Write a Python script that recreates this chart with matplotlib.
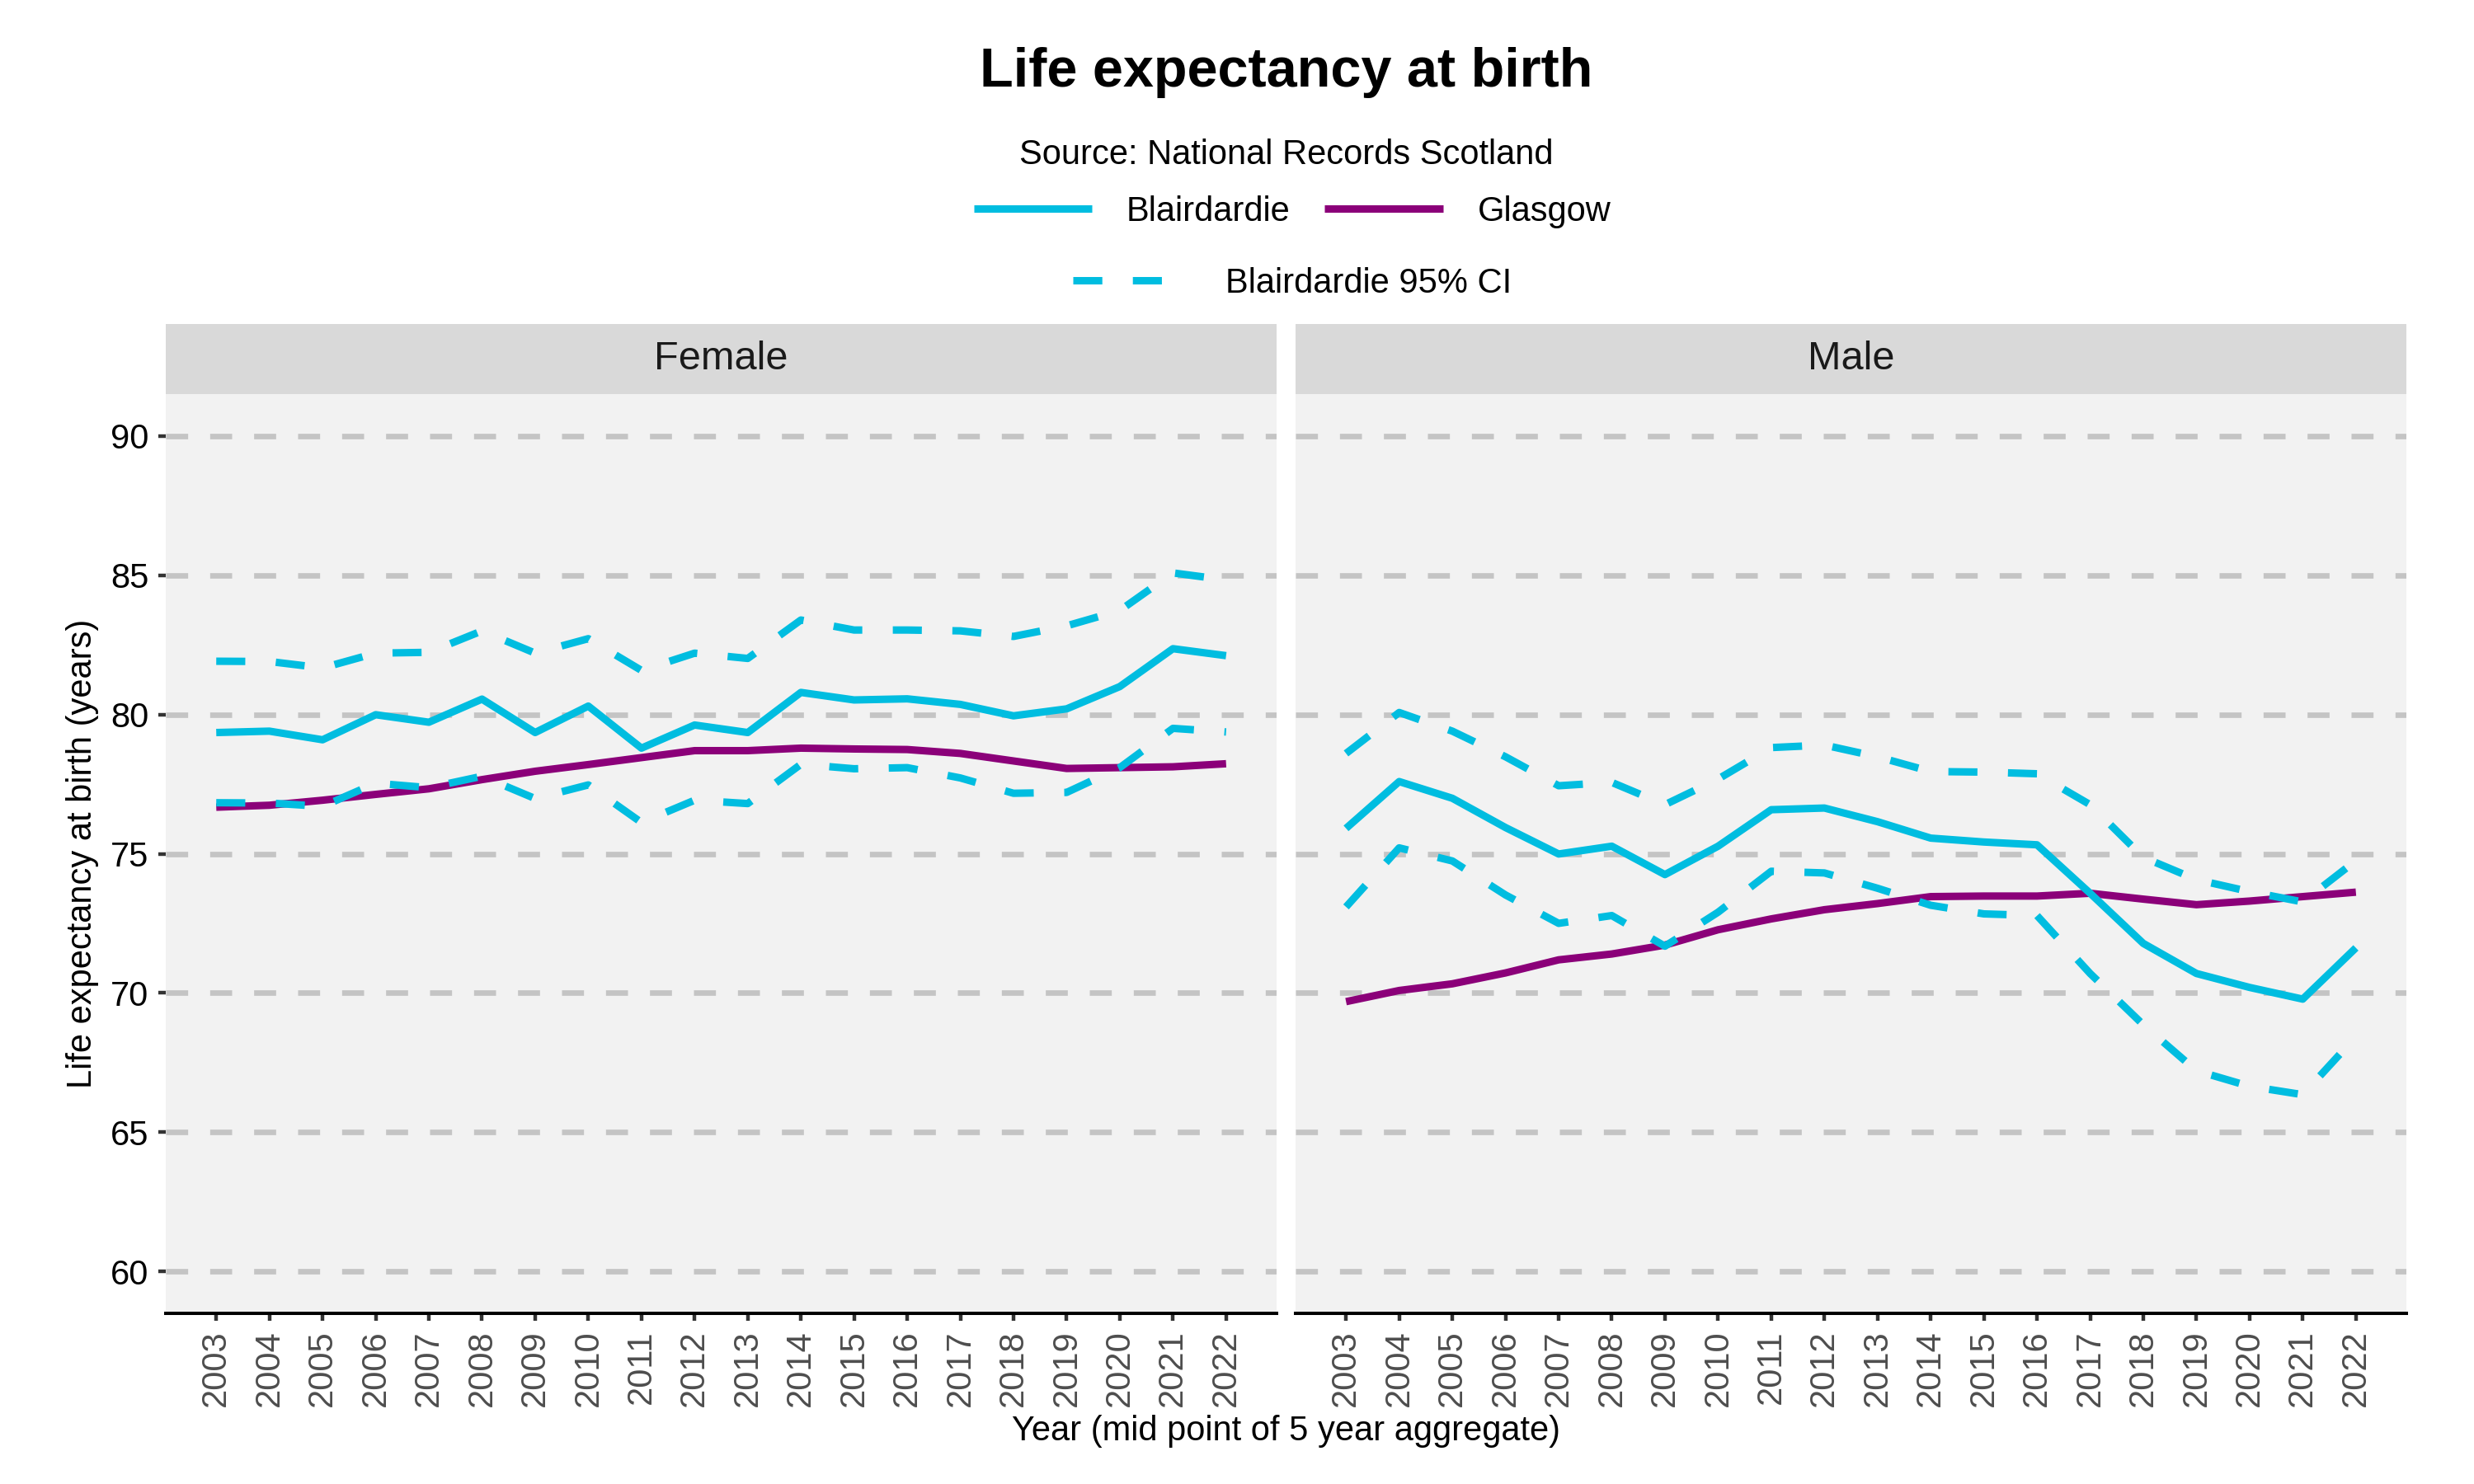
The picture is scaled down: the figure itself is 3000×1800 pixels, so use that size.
import matplotlib
matplotlib.use("Agg")
import matplotlib.pyplot as plt
from matplotlib.lines import Line2D

plt.rcParams['font.family'] = ['Liberation Sans', 'DejaVu Sans']

years = list(range(2003, 2023))

female_blair = [79.35, 79.4, 79.09, 79.99, 79.72, 80.55, 79.35, 80.3, 78.79, 79.62,
                79.35, 80.79, 80.52, 80.56, 80.36, 79.95, 80.2, 81.0, 82.36, 82.11]
female_glasgow = [76.67, 76.74, 76.92, 77.13, 77.33, 77.66, 77.96, 78.2, 78.45, 78.7,
                  78.7, 78.79, 78.76, 78.74, 78.6, 78.33, 78.06, 78.09, 78.12, 78.23]
female_upper = [81.91, 81.9, 81.67, 82.2, 82.23, 83.0, 82.2, 82.72, 81.58, 82.2,
                82.01, 83.39, 83.03, 83.03, 83.0, 82.8, 83.18, 83.73, 85.08, 84.83]
female_lower = [76.83, 76.82, 76.7, 77.53, 77.37, 77.78, 76.98, 77.47, 76.12, 76.92,
                76.8, 78.21, 78.05, 78.09, 77.72, 77.17, 77.2, 78.09, 79.5, 79.37]

male_blair = [75.91, 77.59, 76.99, 75.94, 74.99, 75.27, 74.25, 75.27, 76.58, 76.64,
              76.15, 75.56, 75.42, 75.32, 73.58, 71.78, 70.7, 70.2, 69.78, 71.62]
male_glasgow = [69.69, 70.09, 70.33, 70.72, 71.19, 71.4, 71.72, 72.27, 72.66, 72.99,
                73.21, 73.46, 73.48, 73.48, 73.58, 73.37, 73.17, 73.3, 73.46, 73.62]
male_upper = [78.6, 80.07, 79.4, 78.48, 77.44, 77.56, 76.76, 77.68, 78.81, 78.9,
              78.48, 77.95, 77.93, 77.87, 76.76, 74.87, 74.07, 73.64, 73.27, 74.75]
male_lower = [73.09, 75.21, 74.74, 73.52, 72.5, 72.78, 71.68, 72.9, 74.37, 74.31,
              73.76, 73.15, 72.84, 72.78, 70.7, 68.86, 67.21, 66.65, 66.35, 68.43]

panels = ["Female", "Male"]
y_ticks = [60, 65, 70, 75, 80, 85, 90]

CYAN = "#00BDE0"
PURPLE = "#8B0079"
LW = 3.25
DASH = (3.9, 4.1)

W, H = 3000, 1800
fig = plt.figure(figsize=(15, 9), dpi=200)

panel_px = [(201, 1548), (1571, 2918)]
top_px, bot_px = 478, 1593
strip_top = 393

data = {
    "Female": (female_blair, female_glasgow, female_upper, female_lower),
    "Male": (male_blair, male_glasgow, male_upper, male_lower),
}

for i, name in enumerate(panels):
    l, r = panel_px[i]
    ax = fig.add_axes([l / W, 1 - bot_px / H, (r - l) / W, (bot_px - top_px) / H])
    ax.set_facecolor("#F2F2F2")
    blair, glas, up, lo = data[name]
    ax.plot(years, glas, color=PURPLE, lw=LW, solid_capstyle='butt', zorder=3)
    ax.plot(years, blair, color=CYAN, lw=LW, solid_capstyle='butt', zorder=4)
    for ci in (up, lo):
        ax.plot(years, ci, color=CYAN, lw=LW, dashes=DASH, dash_capstyle='butt', zorder=5)
    ax.set_xlim(2002.05, 2022.95)
    ax.set_ylim(58.5, 91.5)
    ax.set_yticks(y_ticks)
    ax.set_xticks(years)
    ax.set_xticklabels([str(y) for y in years], rotation=90, fontsize=15, color="#4D4D4D")
    for y in y_ticks:
        ax.axhline(y, color="#C4C4C4", lw=2.4, dashes=(4.0, 4.0), dash_capstyle='butt', zorder=1)
    for s in ("top", "right", "left"):
        ax.spines[s].set_visible(False)
    ax.spines["bottom"].set_linewidth(1.45)
    ax.spines["bottom"].set_color("black")
    ax.tick_params(axis='x', length=3.4, width=1.6, color="#333333", pad=4)
    if i == 0:
        ax.tick_params(axis='y', length=3.4, width=1.6, color="#333333", labelsize=15,
                       labelcolor="black", pad=4)
    else:
        ax.tick_params(axis='y', left=False, labelleft=False)

    sax = fig.add_axes([l / W, 1 - top_px / H, (r - l) / W, (top_px - strip_top) / H])
    sax.set_facecolor("#D9D9D9")
    sax.set_xticks([])
    sax.set_yticks([])
    for s in sax.spines.values():
        s.set_visible(False)
    sax.text(0.5, 0.5, name, ha='center', va='center', fontsize=17.5, color="#1A1A1A",
             transform=sax.transAxes)

cx = (201 + 2918) / 2 / W
fig.text(cx, 1 - 88 / H, "Life expectancy at birth", ha='center', va='center',
         fontsize=24, fontweight='bold')
fig.text(cx, 1 - 188 / H, "Source: National Records Scotland", ha='center', va='center',
         fontsize=15)
fig.text(100 / W, 1 - 1035 / H, "Life expectancy at birth (years)", rotation=90,
         ha='center', va='center', fontsize=15)
fig.text(cx, 1 - 1736 / H, "Year (mid point of 5 year aggregate)", ha='center', va='center',
         fontsize=15)

h1 = [Line2D([], [], color=CYAN, lw=LW, solid_capstyle='butt'),
      Line2D([], [], color=PURPLE, lw=LW, solid_capstyle='butt')]
leg1 = fig.legend(h1, ["Blairdardie", "Glasgow"], loc='center', ncol=2,
                  bbox_to_anchor=(1567 / W, 1 - 257 / H), frameon=False, fontsize=15,
                  handlelength=3.45, handletextpad=1.0, columnspacing=1.0)
h2 = [Line2D([], [], color=CYAN, lw=LW, dashes=DASH, dash_capstyle='butt')]
leg2 = fig.legend(h2, ["Blairdardie 95% CI"], loc='center',
                  bbox_to_anchor=(1567 / W, 1 - 344 / H), frameon=False, fontsize=15,
                  handlelength=3.45, handletextpad=1.0)

fig.savefig("out.png", dpi=200)
